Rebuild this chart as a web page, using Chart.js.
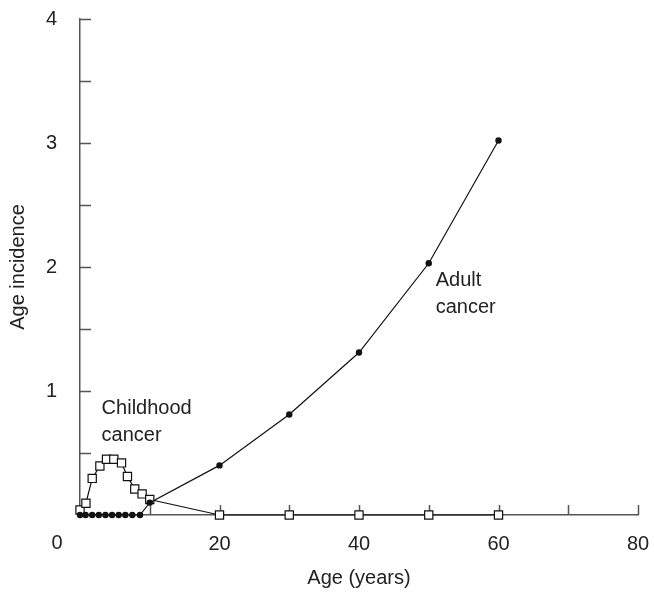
<!DOCTYPE html>
<html>
<head>
<meta charset="utf-8">
<script src="https://cdn.jsdelivr.net/npm/chart.js@4/dist/chart.umd.min.js"></script>
<style>
  html, body { margin: 0; padding: 0; background: #fff; }
  #wrap { width: 654px; height: 592px; }
</style>
</head>
<body>
<div id="wrap"><canvas id="c" width="654" height="592"></canvas></div>
<script>
const childAges   = [0, 0.85, 1.75, 2.85, 3.8, 4.85, 5.95, 6.8, 7.85, 8.9, 10, 20, 30, 40, 50, 60];
const childValues = [0.04, 0.095, 0.295, 0.395, 0.45, 0.45, 0.42, 0.31, 0.21, 0.17, 0.125, 0, 0, 0, 0, 0];
const adultAges   = [0, 0.8, 1.75, 2.7, 3.65, 4.6, 5.55, 6.5, 7.5, 8.6, 10, 20, 30, 40, 50, 60];
const adultValues = [0, 0, 0, 0, 0, 0, 0, 0, 0, 0, 0.1, 0.4, 0.81, 1.31, 2.03, 3.02];
const xTickLabels = [0, 20, 40, 60, 80];
const yTickLabels = [1, 2, 3, 4];
const notes = [
  { text: 'Childhood', x: 3.1, y: 0.855 },
  { text: 'cancer',    x: 3.1, y: 0.645 },
  { text: 'Adult',     x: 51,  y: 1.895 },
  { text: 'cancer',    x: 51,  y: 1.677 }
];

const FONT = "'Liberation Sans', Arial, Helvetica, sans-serif";
const AXIS = '#555';

const pts = (xs, ys) => xs.map((x, i) => ({ x, y: ys[i] }));

const tickPlugin = {
  id: 'inwardTicks',
  beforeDatasetsDraw(chart) {
    const { ctx, scales: { x, y } } = chart;
    ctx.save();
    ctx.strokeStyle = AXIS;
    ctx.lineWidth = 1.5;
    ctx.beginPath();
    y.ticks.forEach(t => {
      if (t.value === 0) return;
      const py = Math.round(y.getPixelForValue(t.value)) + 0.5;
      ctx.moveTo(x.left, py);
      ctx.lineTo(x.left + 11, py);
    });
    x.ticks.forEach(t => {
      if (t.value === 0) return;
      const px = Math.round(x.getPixelForValue(t.value)) + 0.5;
      ctx.moveTo(px, y.bottom);
      ctx.lineTo(px, y.bottom - 10);
    });
    ctx.stroke();
    ctx.restore();
  },
  afterDraw(chart) {
    const { ctx, scales: { x, y } } = chart;
    ctx.save();
    ctx.fillStyle = '#222';
    ctx.font = '20px ' + FONT;
    ctx.textBaseline = 'middle';
    ctx.textAlign = 'center';
    ctx.fillText('0', x.getPixelForValue(0) - 23, y.bottom + 28);
    ctx.textAlign = 'left';
    notes.forEach(n => ctx.fillText(n.text, x.getPixelForValue(n.x), y.getPixelForValue(n.y)));
    ctx.restore();
  }
};

new Chart(document.getElementById('c'), {
  type: 'line',
  data: {
    datasets: [
      {
        label: 'Adult cancer',
        data: pts(adultAges, adultValues),
        borderColor: '#111',
        borderWidth: 1.2,
        pointStyle: 'circle',
        pointRadius: 3.2,
        pointBackgroundColor: '#111',
        pointBorderColor: '#111',
        pointBorderWidth: 0,
        tension: 0,
        clip: false
      },
      {
        label: 'Childhood cancer',
        data: pts(childAges, childValues),
        borderColor: '#111',
        borderWidth: 1.2,
        pointStyle: 'rect',
        pointRadius: 5.8,
        pointBackgroundColor: '#fff',
        pointBorderColor: '#111',
        pointBorderWidth: 1.2,
        tension: 0,
        clip: false
      }
    ]
  },
  options: {
    responsive: false,
    animation: false,
    events: [],
    layout: { padding: { top: 19, right: 16, left: 0, bottom: 0 } },
    plugins: { legend: { display: false }, tooltip: { enabled: false } },
    scales: {
      x: {
        type: 'linear',
        min: 0, max: 80,
        grid: { display: false },
        border: { display: true, color: AXIS, width: 1.5 },
        ticks: {
          stepSize: 10,
          padding: 9,
          color: '#222',
          font: { family: FONT, size: 20 },
          maxRotation: 0,
          autoSkip: false,
          callback: v => (v !== 0 && xTickLabels.includes(v)) ? String(v) : ''
        },
        title: {
          display: true,
          text: 'Age (years)',
          color: '#222',
          font: { family: FONT, size: 20 },
          padding: { top: 0, bottom: 2 }
        },
        afterFit: s => { s.height = 77; s.paddingLeft = 0; s.paddingRight = 0; }
      },
      y: {
        type: 'linear',
        min: 0, max: 4,
        grid: { display: false },
        border: { display: true, color: AXIS, width: 1.5 },
        ticks: {
          stepSize: 0.5,
          padding: 15,
          color: '#222',
          font: { family: FONT, size: 20 },
          autoSkip: false,
          callback: v => yTickLabels.includes(v) ? String(v) : ''
        },
        title: {
          display: true,
          text: 'Age incidence',
          color: '#222',
          font: { family: FONT, size: 20 },
          padding: { top: 6, bottom: 0 }
        },
        afterFit: s => { s.width = 80; s.paddingTop = 0; s.paddingBottom = 0; }
      }
    }
  },
  plugins: [tickPlugin]
});
</script>
</body>
</html>
